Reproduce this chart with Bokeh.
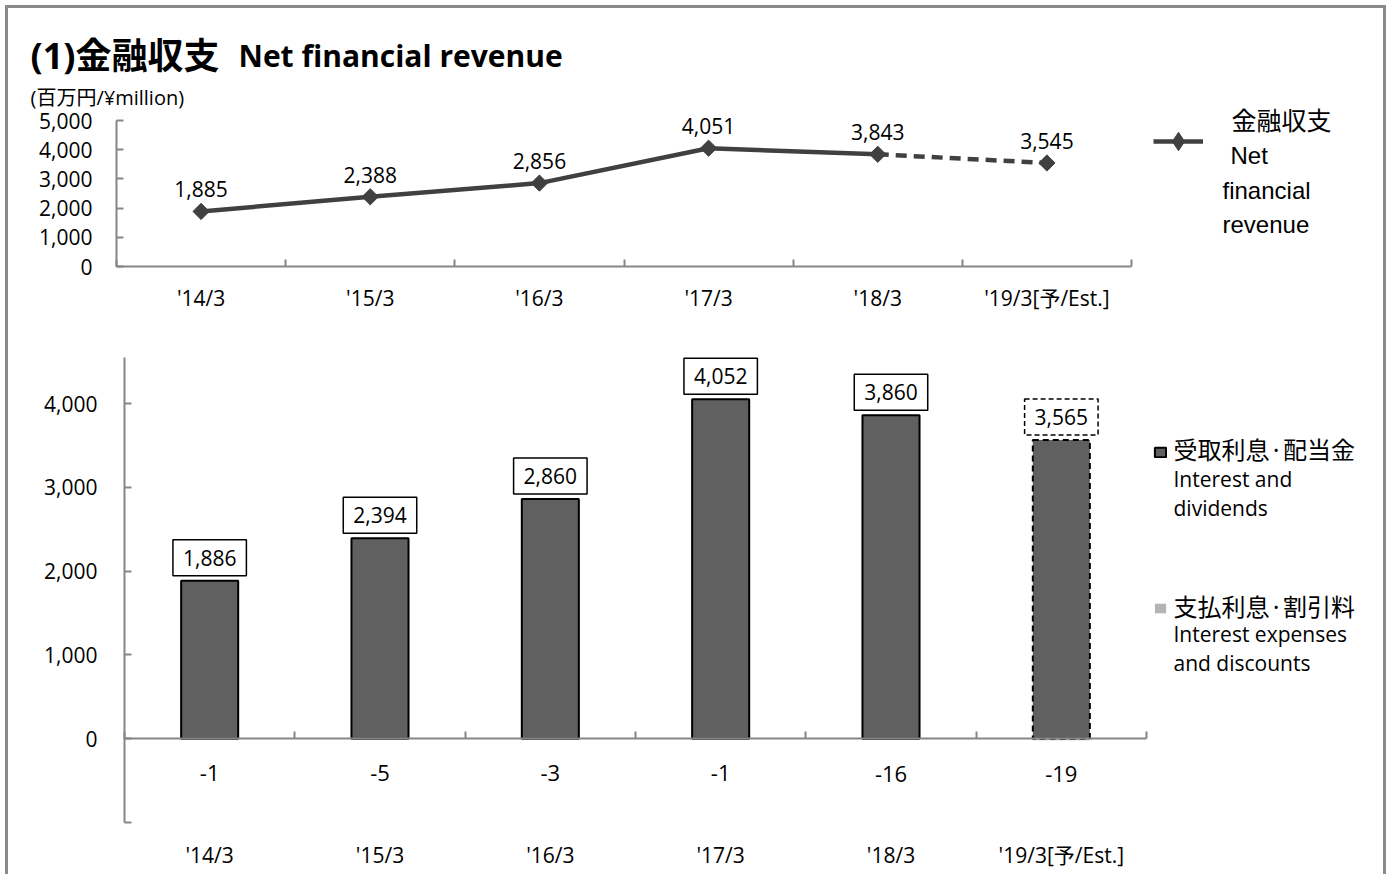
import numpy as np
from bokeh.plotting import figure
from bokeh.models import (ColumnDataSource, Range1d, LinearAxis, FixedTicker, NumeralTickFormatter,
                          LabelSet, Label, Legend, LegendItem)
from bokeh.embed import file_html
from bokeh.resources import INLINE
from bokeh.core.properties import value

# ---------------- data ----------------
categories = ["'14/3", "'15/3", "'16/3", "'17/3", "'18/3", "'19/3[予/Est.]"]
net_revenue = [1885, 2388, 2856, 4051, 3843, 3545]          # 金融収支
interest_dividends = [1886, 2394, 2860, 4052, 3860, 3565]   # 受取利息・配当金
interest_expenses = [-1, -5, -3, -1, -16, -19]              # 支払利息・割引料
n_actual = 5                                                # the last year is an estimate
top_ticks = [0, 1000, 2000, 3000, 4000, 5000]
top_min, top_max = 0, 5000
bottom_ticks = [0, 1000, 2000, 3000, 4000]
bottom_min, bottom_max = -1000, 4550

# category slots: centre of slot i at i + 0.5, borders at integers
NC = len(categories)
xc = [i + 0.5 for i in range(NC)]
borders = list(range(NC + 1))
cat_labels = {c: name for c, name in zip(xc, categories)}

FONT = "Open Sans, Noto Sans CJK JP"
LEGF = "Liberation Sans, Noto Sans CJK JP"
CJK = "Noto Sans CJK JP, Open Sans"
AX = "#868686"
LINE = "#404040"
BAR = "#606060"
BAR2 = "#b4b4b4"
FR = "#8a8a8a"

W, H = 1375, 866      # canvas placed at page (8, 8)
M = 8


def span(p0, p1, v0, v1, lo, hi):
    """Range whose values v0/v1 fall at canvas pixels p0/p1, over the canvas lo..hi."""
    k = (v1 - v0) / (p1 - p0)
    return Range1d(v0 + (lo - p0) * k, v0 + (hi - p0) * k)


def up(page_y):       # page y (down) -> canvas px from bottom
    return H - (page_y - M)


# plot areas of the two charts (page px)
xr_top = span(116 - M, 1131 - M, 0, NC, 0, W)
yr_top = span(up(266), up(120), top_min, top_max, 0, H)
xr_bot = span(124 - M, 1146 - M, 0, NC, 0, W)
yr_bot = span(up(822), up(357), bottom_min, bottom_max, 0, H)

p = figure(width=W, height=H, x_range=xr_bot, y_range=yr_bot, title=None,
           output_backend="svg", toolbar_location=None, x_axis_location=None, y_axis_location=None,
           min_border_left=0, min_border_right=0, min_border_top=0, min_border_bottom=0)
p.extra_x_ranges = {"xt": xr_top}
p.extra_y_ranges = {"yt": yr_top}
p.xgrid.visible = False
p.ygrid.visible = False
p.outline_line_color = None
p.background_fill_color = "white"
p.border_fill_color = "white"
p.styles = {"margin-left": f"{M}px", "margin-top": f"{M}px",
            "box-shadow": f"-3px 0 0 0 {FR}, 3px 0 0 0 {FR}, 0 -3px 0 0 {FR}, "
                          f"-3px -3px 0 0 {FR}, 3px -3px 0 0 {FR}"}


def fmt(v):
    return f"{v:,}"


AXIS_COMMON = dict(axis_line_color=AX, axis_line_width=2,
                   major_tick_line_color=AX, major_tick_line_width=2, major_tick_in=7, major_tick_out=0,
                   minor_tick_line_color=AX, minor_tick_line_width=2, minor_tick_in=7, minor_tick_out=0,
                   major_label_text_font=FONT, major_label_text_font_size="21px",
                   major_label_text_color="black")

# ================= top chart: line =================
p.add_layout(LinearAxis(x_range_name="xt", y_range_name="yt", fixed_location=0, bounds=(top_min, top_max),
                        ticker=FixedTicker(ticks=top_ticks, minor_ticks=[]),
                        formatter=NumeralTickFormatter(format="0,0"), major_label_standoff=24,
                        **AXIS_COMMON), "left")
ax_top_x = LinearAxis(x_range_name="xt", y_range_name="yt", fixed_location=top_min, bounds=(0, NC),
                      ticker=FixedTicker(ticks=xc, minor_ticks=borders),
                      major_label_overrides=cat_labels, major_label_standoff=17, **AXIS_COMMON)
ax_top_x.major_tick_line_color = None
p.add_layout(ax_top_x, "below")

r_line = p.line(xc[:n_actual], net_revenue[:n_actual], x_range_name="xt", y_range_name="yt",
                line_width=4.5, line_color=LINE)
p.line(xc[n_actual - 1:], net_revenue[n_actual - 1:], x_range_name="xt", y_range_name="yt",
       line_width=4.5, line_color=LINE, line_dash="11 7")
p.scatter(xc, net_revenue, x_range_name="xt", y_range_name="yt", marker="square",
          angle=np.pi / 4, size=11.5, fill_color=LINE, line_color=LINE)
# diamond used for the legend swatch; it sits hidden inside the first marker
r_leg_marker = p.scatter(xc[:1], net_revenue[:1], x_range_name="xt", y_range_name="yt",
                         marker="diamond", size=15, fill_color=LINE, line_color=LINE)

src1 = ColumnDataSource(dict(x=xc, v=net_revenue, t=[fmt(v) for v in net_revenue]))
p.add_layout(LabelSet(x="x", y="v", text="t", source=src1, x_range_name="xt", y_range_name="yt",
                      y_offset=22, text_align="center", text_baseline="middle",
                      text_font=value(FONT), text_font_size=value("21px"), text_color="black"))

# title and unit
p.add_layout(Label(x=30 - M, y=up(55), x_units="screen", y_units="screen", text="(1)金融収支",
                   text_font=FONT, text_font_size="36px", text_font_style="bold",
                   text_baseline="middle", text_color="black"))
p.add_layout(Label(x=238 - M, y=up(55), x_units="screen", y_units="screen", text="Net financial revenue",
                   text_font=FONT, text_font_size="30px", text_font_style="bold",
                   text_baseline="middle", text_color="black"))
p.add_layout(Label(x=30 - M, y=up(97), x_units="screen", y_units="screen", text="(百万円/¥million)",
                   text_font=FONT, text_font_size="20px", text_baseline="middle", text_color="black"))

leg1 = Legend(items=[LegendItem(label=" ", renderers=[r_line, r_leg_marker])],
              location=(1153 - M, up(164)),
              glyph_width=50, glyph_height=46, label_height=46, label_text_font_size="1px",
              padding=0, margin=0, border_line_color=None, background_fill_alpha=0)
p.add_layout(leg1, "center")

for txt, px, py, al, fnt, fs in [("金融収支", 1281, 118, "center", CJK, "25px"),
                                 ("Net", 1230, 155, "left", LEGF, "24px"),
                                 ("financial", 1222, 190, "left", LEGF, "24px"),
                                 ("revenue", 1222, 224, "left", LEGF, "24px")]:
    p.add_layout(Label(x=px - M, y=up(py), x_units="screen", y_units="screen", text=txt, text_align=al,
                       text_baseline="middle", text_font=fnt, text_font_size=fs, text_color="black"))

# ================= bottom chart: bars =================
p.add_layout(LinearAxis(fixed_location=0, bounds=(bottom_min, bottom_max),
                        ticker=FixedTicker(ticks=bottom_ticks, minor_ticks=[bottom_min]),
                        formatter=NumeralTickFormatter(format="0,0"), major_label_standoff=27,
                        **AXIS_COMMON), "left")
p.add_layout(LinearAxis(fixed_location=0, bounds=(0, NC),
                        ticker=FixedTicker(ticks=[], minor_ticks=borders), **AXIS_COMMON), "below")
ax_bot_lab = LinearAxis(fixed_location=bottom_min, ticker=FixedTicker(ticks=xc, minor_ticks=[]),
                        major_label_overrides=cat_labels, major_label_standoff=18, **AXIS_COMMON)
ax_bot_lab.axis_line_color = None
ax_bot_lab.major_tick_line_color = None
p.add_layout(ax_bot_lab, "below")

BW = 0.335
r_exp = p.vbar(x=xc, top=interest_expenses, width=BW, fill_color=BAR2, line_color=None)
r_div = p.vbar(x=xc[:n_actual], top=interest_dividends[:n_actual], width=BW,
               fill_color=BAR, line_color="black", line_width=2)
p.vbar(x=xc[n_actual:], top=interest_dividends[n_actual:], width=BW,
       fill_color=BAR, line_color="black", line_width=2, line_dash="6 4")

# boxed value labels above the bars
for i, (x, v) in enumerate(zip(xc, interest_dividends)):
    p.add_layout(Label(x=x, y=v, y_offset=23, text=fmt(v),
                       text_align="center", text_baseline="middle", text_font=FONT,
                       text_font_size="21px", text_color="black", padding=10,
                       background_fill_color="white", border_line_color="black",
                       border_line_width=1.5,
                       border_line_dash="solid" if i < n_actual else "5 3"))

src2 = ColumnDataSource(dict(x=xc, v=interest_expenses, t=[fmt(v) for v in interest_expenses]))
p.add_layout(LabelSet(x="x", y="v", text="t", source=src2, y_offset=-34, text_align="center",
                      text_baseline="middle", text_font=value(FONT), text_font_size=value("22px"),
                      text_color="black"))

leg2 = Legend(items=[LegendItem(label=" ", renderers=[r_div]), LegendItem(label=" ", renderers=[r_exp])],
              location=(1153 - M, up(614)), glyph_width=14, glyph_height=12, label_height=12,
              label_text_font_size="1px", spacing=144, padding=0, margin=0,
              border_line_color=None, background_fill_alpha=0)
p.add_layout(leg2, "center")

for txt, px, py, fnt, fs in [("受取利息·配当金", 1173, 448, CJK, "24px"),
                             ("Interest and", 1173, 478, FONT, "21px"),
                             ("dividends", 1173, 507, FONT, "21px"),
                             ("支払利息·割引料", 1173, 605, CJK, "24px"),
                             ("Interest expenses", 1173, 633, FONT, "21px"),
                             ("and discounts", 1173, 662, FONT, "21px")]:
    p.add_layout(Label(x=px - M, y=up(py), x_units="screen", y_units="screen", text=txt,
                       text_align="left", text_baseline="middle", text_font=fnt, text_font_size=fs,
                       text_color="black"))

open("out.html", "w").write(file_html(p, INLINE))
